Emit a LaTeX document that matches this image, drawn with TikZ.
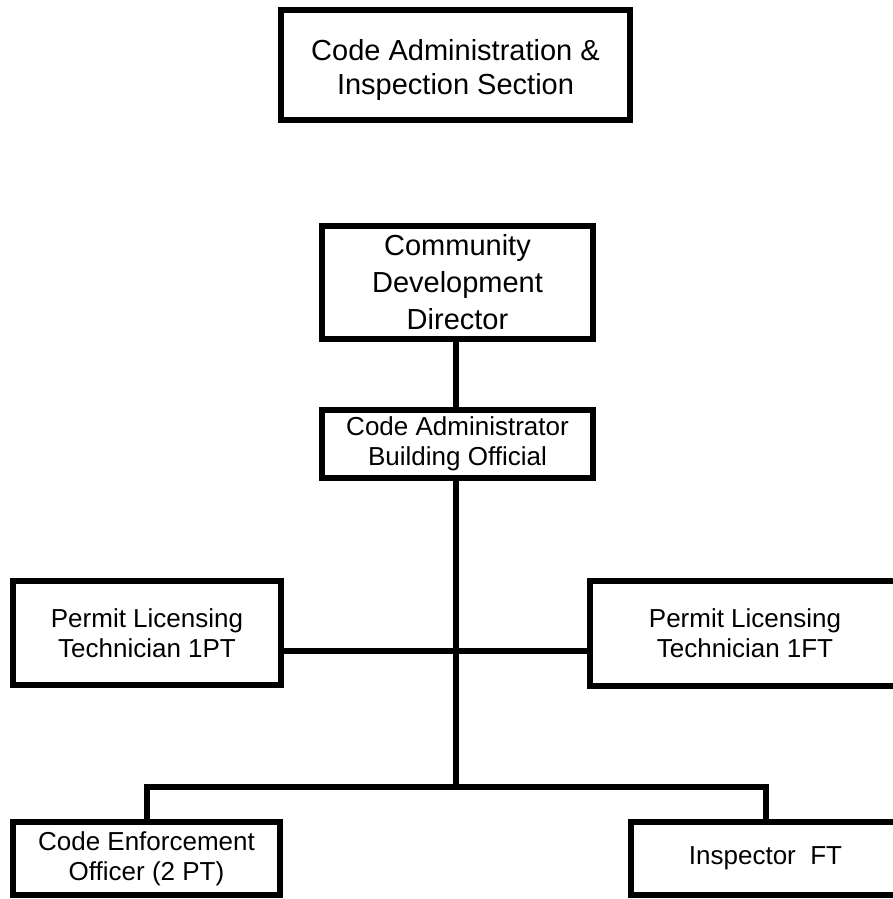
\documentclass[tikz,border=0pt]{standalone}
\usepackage{fontspec}
\setmainfont{Liberation Sans}
\begin{document}
\begin{tikzpicture}[x=1pt,y=-1pt,
  box/.style={draw=black,line width=6pt,inner sep=0pt,outer sep=0pt,align=center,fill=white},
  big/.style={font=\fontsize{29}{34}\selectfont},
  mid/.style={font=\fontsize{29}{37}\selectfont},
  small/.style={font=\fontsize{26}{30}\selectfont},
  link/.style={line width=6pt,line join=miter}]
\useasboundingbox (0,0) rectangle (893,899);
\fill[white] (0,0) rectangle (893,899);
\node[box,big,minimum width=349pt,minimum height=110pt] (top) at (455.5,65) {\begin{tabular}{@{}c@{}}\rule{0pt}{35pt}Code Administration \&\\Inspection Section\end{tabular}};
\node[box,mid,minimum width=271pt,minimum height=113pt] (comm) at (457.5,282.5) {Community\\Development\\Director};
\node[box,small,minimum width=271pt,minimum height=68pt] (adm) at (457.5,444) {Code Administrator\\Building Official};
\node[box,small,minimum width=268pt,minimum height=104pt] (plt) at (147,633) {Permit Licensing\\Technician 1PT};
\node[box,small,minimum width=310pt,minimum height=105pt] (plf) at (745,633.5) {Permit Licensing\\Technician 1FT};
\node[box,small,minimum width=267pt,minimum height=73pt] (ceo) at (146.5,858.5) {Code Enforcement\\Officer (2 PT)};
\node[box,small,minimum width=269pt,minimum height=73pt] (insp) at (765.5,858.5) {Inspector\ \ FT};
\coordinate (j1) at (456,651);
\coordinate (j2) at (456,787);
\draw[link] (comm.south -| j1) -- (adm.north -| j1);
\draw[link] (adm.south -| j1) -- (j2);
\draw[link] (j1 -| plt.east) -- (j1 -| plf.west);
\draw[link] (ceo.north) |- (j2) -| (insp.north);
\end{tikzpicture}
\end{document}
